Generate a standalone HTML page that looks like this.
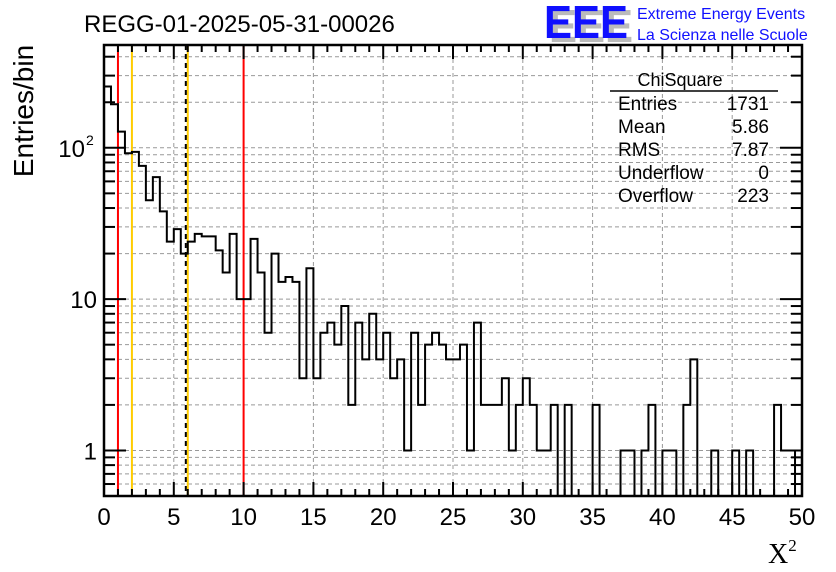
<!DOCTYPE html>
<html><head><meta charset="utf-8">
<style>
html,body{margin:0;padding:0;background:#fff;}
svg{display:block;font-family:"Liberation Sans",sans-serif;}
</style></head>
<body>
<svg id="chart" width="836" height="572" viewBox="0 0 836 572" xmlns="http://www.w3.org/2000/svg">
<rect width="836" height="572" fill="#fff"/>
<g id="grid"></g>
<g id="vlines"></g>
<path id="hist" fill="none" stroke="#000" stroke-width="2"/>
<g id="axes"></g>
<text x="84" y="32" font-size="24">REGG-01-2025-05-31-00026</text>
<text transform="translate(33,111) rotate(-90)" text-anchor="middle" font-size="28">Entries/bin</text>
<text x="768" y="563" font-family="Liberation Serif,serif" font-size="28">X<tspan font-size="17" dy="-12">2</tspan></text>
<g>
<text x="549" y="42" font-size="46" font-weight="bold" fill="#bbb" textLength="84" lengthAdjust="spacingAndGlyphs">EEE</text>
<text x="544" y="38" font-size="46" font-weight="bold" fill="#1010ff" textLength="84" lengthAdjust="spacingAndGlyphs">EEE</text>
<text x="637" y="19" font-size="16" fill="#1010ff">Extreme Energy Events</text>
<text x="637" y="40" font-size="16" fill="#1010ff">La Scienza nelle Scuole</text>
</g>
<g font-size="19">
<text x="680" y="86" text-anchor="middle" font-size="18">ChiSquare</text>
<line x1="610" y1="91" x2="778" y2="91" stroke="#000" stroke-width="1.5"/>
<text x="618" y="110">Entries</text><text x="769" y="110" text-anchor="end">1731</text>
<text x="618" y="133">Mean</text><text x="769" y="133" text-anchor="end">5.86</text>
<text x="618" y="156">RMS</text><text x="769" y="156" text-anchor="end">7.87</text>
<text x="618" y="179">Underflow</text><text x="769" y="179" text-anchor="end">0</text>
<text x="618" y="202">Overflow</text><text x="769" y="202" text-anchor="end">223</text>
</g>
</svg>
<script>
const counts = [254,194,128,92,94,76,45,64,38,24,29,20,24,27,26,26,21,15,27,10,
10,25,15,6,20,13,14,13,3,16,3,6,7,5,9,2,7,4,8,4,
6,3,4,1,6,2,5,6,5,4,4,5,1,7,2,2,2,3,1,2,
3,2,1,1,2,0,2,0,0,0,2,0,0,0,1,1,0,1,2,0,
1,1,0,2,4,0,0,1,0,0,1,0,1,0,0,0,2,1,1,0];
const binWidth = 0.5;
const xTicks = [0,5,10,15,20,25,30,35,40,45,50];
const refLinesRed = [1,10];
const refLinesYellow = [2,6];
const meanValue = 5.86;

const X0=104,X1=802,Y0=496,Y1=45;
const XMIN=0,XMAX=50,YMIN=0.5,YMAX=478;
const sx=v=>X0+(v-XMIN)/(XMAX-XMIN)*(X1-X0);
const sy=v=>{if(v<=YMIN)return Y0;return Y0-(Math.log10(v)-Math.log10(YMIN))/(Math.log10(YMAX)-Math.log10(YMIN))*(Y0-Y1);};
const NS="http://www.w3.org/2000/svg";
function mk(t,a,p){const e=document.createElementNS(NS,t);for(const k in a)e.setAttribute(k,a[k]);p.appendChild(e);return e;}

const grid=document.getElementById('grid');
for(let v=5;v<50;v+=5){
 const g=mk('line',{x1:sx(v),x2:sx(v),y1:Y1,y2:Y0,stroke:'#999','stroke-dasharray':'4,3','stroke-width':1},grid);
 
 
}
const yGrid=[];
for(let d=0.1;d<=100;d*=10)for(let m=1;m<=9;m++){const v=+(d*m).toPrecision(2);if(v>YMIN&&v<YMAX)yGrid.push(v);}
yGrid.forEach(v=>{
 const g=mk('line',{x1:X0,x2:X1,y1:sy(v),y2:sy(v),stroke:'#999','stroke-dasharray':'4,3','stroke-width':1},grid);
 
 
});

const vl=document.getElementById('vlines');
refLinesRed.forEach(v=>{const l=mk('line',{x1:sx(v),x2:sx(v),y1:Y1,y2:Y0,stroke:'#f00','stroke-width':2},vl);
 
 });
refLinesYellow.forEach(v=>{const l=mk('line',{x1:sx(v),x2:sx(v),y1:Y1,y2:Y0,stroke:'#fc0','stroke-width':2},vl);
 
 });
const ml=mk('line',{x1:sx(meanValue),x2:sx(meanValue),y1:Y1,y2:Y0,stroke:'#000','stroke-width':2,'stroke-dasharray':'5,4'},vl);



let d='M'+sx(0)+','+Y0;
counts.forEach((c,i)=>{const y=sy(c);d+=' L'+sx(i*binWidth)+','+y+' L'+sx((i+1)*binWidth)+','+y;});
d+=' L'+sx(counts.length*binWidth)+','+Y0;
document.getElementById('hist').setAttribute('d',d);

const ax=document.getElementById('axes');
mk('rect',{x:X0,y:Y1,width:X1-X0,height:Y0-Y1,fill:'none',stroke:'#000','stroke-width':2.5},ax);
for(let v=0;v<=50;v++){const x=sx(v),L=v%5===0?14:7;
 mk('line',{x1:x,x2:x,y1:Y0,y2:Y0-L,stroke:'#000','stroke-width':2},ax);
 mk('line',{x1:x,x2:x,y1:Y1,y2:Y1+L,stroke:'#000','stroke-width':2},ax);}
xTicks.forEach(v=>{const t=mk('text',{x:sx(v),y:525,'text-anchor':'middle','font-size':24},ax);t.textContent=v;
 
 });
const yMinor=[];
for(let d2=0.1;d2<=100;d2*=10)for(let m=1;m<=9;m++){const v=+(d2*m).toPrecision(2);if(v>=YMIN&&v<YMAX)yMinor.push([v,m===1]);}
yMinor.forEach(([v,maj])=>{const y=sy(v),L=maj?22:11;
 mk('line',{x1:X0,x2:X0+L,y1:y,y2:y,stroke:'#000','stroke-width':2},ax);
 mk('line',{x1:X1,x2:X1-L,y1:y,y2:y,stroke:'#000','stroke-width':2},ax);});
const yl=[[1,'1'],[10,'10']];
yl.forEach(([v,s])=>{const t=mk('text',{x:97,y:sy(v)+9,'text-anchor':'end','font-size':24},ax);t.textContent=s;
 
 });
const t2=mk('text',{x:85,y:sy(100)+9,'text-anchor':'end','font-size':24},ax);t2.textContent='10';


const t3=mk('text',{x:86,y:sy(100)-3,'font-size':14},ax);t3.textContent='2';


</script>
</body></html>
